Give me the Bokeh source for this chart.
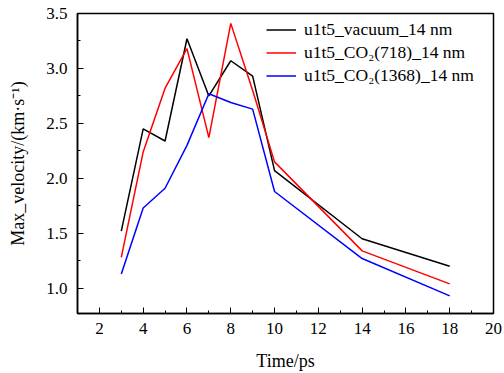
from bokeh.plotting import figure
from bokeh.models import Legend, LegendItem, FixedTicker, Range1d, CustomJSTickFormatter
from bokeh.embed import file_html
from bokeh.resources import INLINE

time = [3, 4, 5, 6, 7, 8, 9, 10, 14, 18]
vacuum = [1.52, 2.45, 2.34, 3.27, 2.75, 3.07, 2.93, 2.07, 1.45, 1.20]
co2_718 = [1.28, 2.24, 2.82, 3.18, 2.37, 3.41, 2.80, 2.15, 1.34, 1.04]
co2_1368 = [1.13, 1.73, 1.91, 2.30, 2.77, 2.69, 2.63, 1.88, 1.27, 0.93]

labels = ["u1t5_vacuum_14 nm", "u1t5_CO\u2082(718)_14 nm", "u1t5_CO\u2082(1368)_14 nm"]
colors = ["black", "red", "blue"]
x_ticks = [2, 4, 6, 8, 10, 12, 14, 16, 18, 20]
x_minor = [1, 3, 5, 7, 9, 11, 13, 15, 17, 19]
y_ticks = [1.0, 1.5, 2.0, 2.5, 3.0, 3.5]
y_minor = [0.75, 1.25, 1.75, 2.25, 2.75, 3.25]

FONT = "Liberation Serif"

p = figure(width=504, height=373, output_backend="svg", toolbar_location=None,
           x_range=Range1d(1, 20), y_range=Range1d(0.77, 3.5),
           min_border_left=77, min_border_right=11, min_border_top=13, min_border_bottom=60)
p.frame_width = 416
p.frame_height = 300

p.xgrid.visible = False
p.ygrid.visible = False
p.outline_line_color = "black"
p.outline_line_width = 1.5

items = []
for ys, c, lab in zip([vacuum, co2_718, co2_1368], colors, labels):
    r = p.line(time, ys, line_color=c, line_width=1.5)
    items.append(LegendItem(label=lab, renderers=[r]))

for ax in (p.xaxis, p.yaxis):
    ax.major_label_text_font = FONT
    ax.major_label_text_font_size = "17px"
    ax.major_label_text_color = "black"
    ax.axis_label_text_font = FONT
    ax.axis_label_text_font_size = "18px"
    ax.axis_label_text_font_style = "normal"
    ax.axis_label_text_color = "black"
    ax.axis_line_color = "black"
    ax.axis_line_width = 1.5
    ax.major_tick_in = 6
    ax.major_tick_out = 0
    ax.minor_tick_in = 3
    ax.minor_tick_out = 0
    ax.major_tick_line_color = "black"
    ax.minor_tick_line_color = "black"

p.xaxis.ticker = FixedTicker(ticks=x_ticks, minor_ticks=x_minor)
p.yaxis.ticker = FixedTicker(ticks=y_ticks, minor_ticks=y_minor)
p.yaxis.formatter = CustomJSTickFormatter(code="return tick.toFixed(1);")
p.xaxis.axis_label = "Time/ps"
p.yaxis.axis_label = "Max_velocity/(km\u00b7s\u207b\u00b9)"
p.xaxis.major_label_standoff = 9
p.xaxis.axis_label_standoff = 14
p.yaxis.major_label_standoff = 10
p.yaxis.axis_label_standoff = 15

legend = Legend(items=items, location=(189, 226))
legend.label_text_font = FONT
legend.label_text_font_size = "17.5px"
legend.label_text_color = "black"
legend.border_line_alpha = 0
legend.background_fill_alpha = 0
legend.margin = 0
legend.padding = 0
legend.spacing = 0
legend.glyph_width = 30
legend.label_standoff = 8
legend.label_height = 23
legend.glyph_height = 23
p.add_layout(legend)

open("out.html", "w").write(file_html(p, INLINE))
